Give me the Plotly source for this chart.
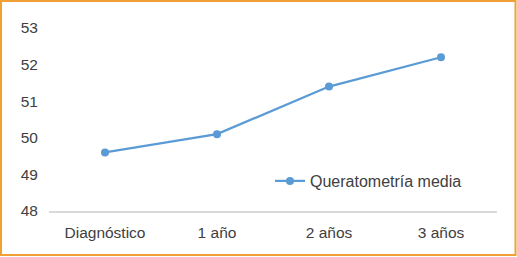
import plotly.graph_objects as go

categories = ["Diagnóstico", "1 año", "2 años", "3 años"]
values = [49.6, 50.1, 51.4, 52.2]
series_name = "Queratometría media"
y_ticks = [48, 49, 50, 51, 52, 53]

W, H = 517, 257
ml, mr, mt, mb = 49, 20, 28, 46
pw, ph = W - ml - mr, H - mt - mb

def px_x(p):
    return (p - ml) / pw

def px_y(p):
    return (H - mb - p) / ph

fig = go.Figure()
fig.add_trace(go.Scatter(
    x=categories, y=values, name=series_name, mode="lines+markers",
    line=dict(color="#5B9BD5", width=2.25),
    marker=dict(color="#5B9BD5", size=8),
))

fig.update_layout(
    width=W, height=H,
    margin=dict(l=ml, r=mr, t=mt, b=mb, autoexpand=False),
    paper_bgcolor="white", plot_bgcolor="white",
    font=dict(family="Liberation Sans, Arial", size=15.5, color="#404040"),
    showlegend=True,
    legend=dict(x=px_x(270), y=px_y(181), xanchor="left", yanchor="middle",
                bgcolor="rgba(0,0,0,0)", font=dict(size=16, color="#404040")),
    xaxis=dict(range=[-0.5, 3.5], showgrid=False, showline=True, linecolor="#D9D9D9",
               linewidth=2, ticks="", zeroline=False, automargin=False,
               ticklabelstandoff=6),
    yaxis=dict(range=[48, 53], tickvals=y_ticks, showgrid=False, showline=False,
               zeroline=False, ticks="", ticklabelstandoff=10, automargin=False),
    shapes=[dict(type="rect", xref="paper", yref="paper",
                 x0=px_x(1), x1=px_x(515.5),
                 y0=px_y(255), y1=px_y(1),
                 line=dict(color="#F0A035", width=2), fillcolor="rgba(0,0,0,0)", layer="below")],
)

fig.write_html("out.html", config={"displayModeBar": False},
               post_script="document.body.style.margin='0';document.body.style.overflow='hidden';")
